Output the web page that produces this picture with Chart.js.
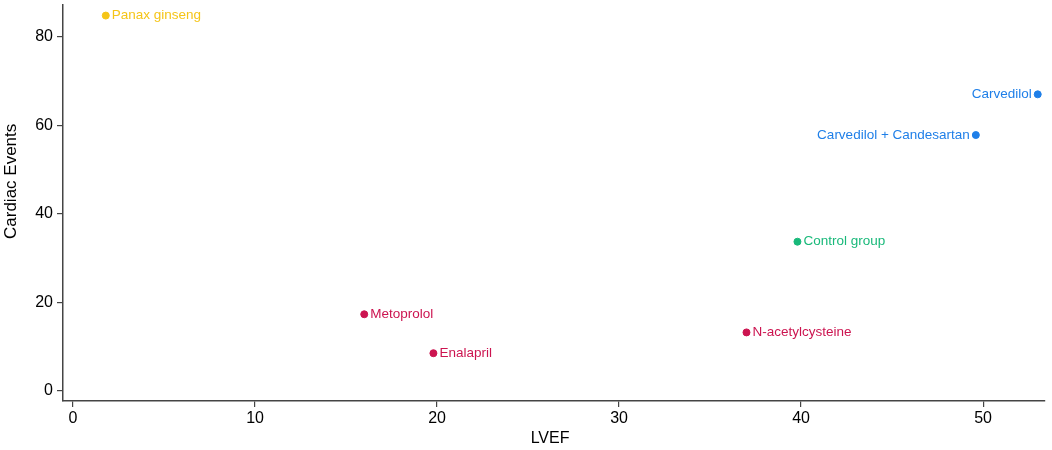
<!DOCTYPE html>
<html lang="en">
<head>
<meta charset="UTF-8">
<title>LVEF vs Cardiac Events</title>
<script src="https://cdn.jsdelivr.net/npm/chart.js"></script>
<style>
  html, body { margin: 0; padding: 0; background: #fff; }
  .wrap { width: 1052px; height: 450px; }
</style>
</head>
<body>
<div class="wrap"><canvas id="myChart" width="1052" height="450"></canvas></div>
<script>
// data
const drugs = ['Panax ginseng', 'Carvedilol', 'Carvedilol + Candesartan', 'Control group', 'N-acetylcysteine', 'Metoprolol', 'Enalapril']
const lvef = [1.8, 53.0, 49.6, 39.8, 37.0, 16.0, 19.8]
const cardiacEvents = [84.8, 67.0, 57.8, 33.7, 13.2, 17.3, 8.5]
const groupColors = ['#f5c518', '#1f7fe8', '#1f7fe8', '#19b97a', '#cc1450', '#cc1450', '#cc1450']
const labelLeft = [false, true, true, false, false, false, false]
const xTicks = [0, 10, 20, 30, 40, 50]
const yTicks = [0, 20, 40, 60, 80]
const xTitle = 'LVEF'
const yTitle = 'Cardiac Events'

const points = drugs.map((d, i) => ({ x: lvef[i], y: cardiacEvents[i] }))
const fontFamily = '"Liberation Sans", Arial, sans-serif'

// writes the drug name next to each dot, plus the two axis titles
const pointLabels = {
    id: 'pointLabels',
    afterDatasetsDraw(chart) {
        const ctx = chart.ctx
        const meta = chart.getDatasetMeta(0)
        ctx.save()
        ctx.font = '13.5px ' + fontFamily
        ctx.textBaseline = 'middle'
        meta.data.forEach((pt, i) => {
            ctx.fillStyle = groupColors[i]
            if (labelLeft[i]) {
                ctx.textAlign = 'right'
                ctx.fillText(drugs[i], pt.x - 6, pt.y)
            } else {
                ctx.textAlign = 'left'
                ctx.fillText(drugs[i], pt.x + 6, pt.y)
            }
        })

        // axis titles (the original puts them a bit off centre)
        const area = chart.chartArea
        ctx.fillStyle = '#000'
        ctx.textAlign = 'center'
        ctx.font = '16px ' + fontFamily
        ctx.fillText(xTitle, area.left + (area.right - area.left) * 0.496, 439)
        ctx.translate(11, area.top + (area.bottom - area.top) * 0.446)
        ctx.rotate(-Math.PI / 2)
        ctx.font = '17px ' + fontFamily
        ctx.fillText(yTitle, 0, 0)
        ctx.restore()
    }
}

const axisColor = '#444444'
const tickFont = { family: fontFamily, size: 16 }

const config = {
    type: 'scatter',
    data: {
        datasets: [{
            data: points,
            backgroundColor: groupColors,
            borderColor: groupColors,
            pointRadius: 3.5,
            pointHoverRadius: 3.5
        }]
    },
    options: {
        responsive: false,
        animation: false,
        layout: { padding: { top: 3, right: 7, left: 0, bottom: 0 } },
        plugins: {
            legend: { display: false },
            tooltip: { enabled: false }
        },
        scales: {
            x: {
                type: 'linear',
                min: -0.55,
                max: 53.4,
                afterBuildTicks: s => { s.ticks = xTicks.map(v => ({ value: v })) },
                afterFit: s => { s.height = 49; s.paddingLeft = 0; s.paddingRight = 0 },
                border: { color: axisColor, width: 1.5 },
                grid: { drawOnChartArea: false, color: axisColor, tickLength: 6, lineWidth: 1.2 },
                ticks: { color: '#000', font: tickFont, padding: 2, maxRotation: 0 }
            },
            y: {
                type: 'linear',
                min: -2.3,
                max: 87.3,
                afterBuildTicks: s => { s.ticks = yTicks.map(v => ({ value: v })) },
                afterFit: s => { s.width = 63; s.paddingTop = 0; s.paddingBottom = 0 },
                border: { color: axisColor, width: 1.5 },
                grid: { drawOnChartArea: false, color: axisColor, tickLength: 6, lineWidth: 1.2 },
                ticks: { color: '#000', font: tickFont, padding: 4 }
            }
        }
    },
    plugins: [pointLabels]
}

const myChart = new Chart(document.getElementById('myChart'), config)
</script>
</body>
</html>
